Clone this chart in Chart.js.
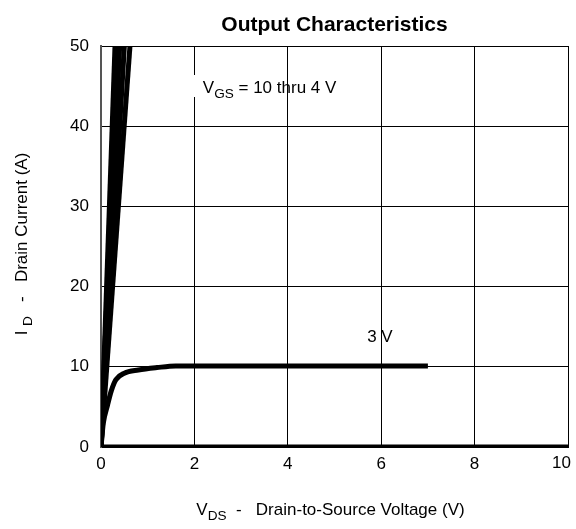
<!DOCTYPE html>
<html>
<head>
<meta charset="utf-8">
<script src="https://cdn.jsdelivr.net/npm/chart.js@4.4.0/dist/chart.umd.min.js"></script>
<style>
  html, body { margin: 0; padding: 0; background: #fff; }
  #wrap { width: 576px; height: 529px; }
</style>
</head>
<body>
<div id="wrap"><canvas id="chart" width="576" height="529"></canvas></div>
<script>
// Curve data (V_DS in volts, I_D in amps)
const vgs10V = [0, 0.30];
const vgs10I = [0, 50];
const vgs8V = [0, 0.34];
const vgs8I = [0, 50];
const vgs6V = [0, 0.40];
const vgs6I = [0, 50];
const vgs5V = [0, 0.50];
const vgs5I = [0, 50];
const vgs4V = [0, 0.62];
const vgs4I = [0, 50];
const vgs3V = [0, 0.05, 0.13, 0.22, 0.32, 0.5, 0.8, 1.2, 1.6, 3, 5, 7];
const vgs3I = [0, 3.0, 5.0, 7.0, 8.4, 9.2, 9.6, 9.9, 10.1, 10.1, 10.1, 10.1];
const vgs2V = [0, 10];
const vgs2I = [0, 0];
const xTicks = [0, 2, 4, 6, 8, 10];
const yTicks = [0, 10, 20, 30, 40, 50];

const FONT = 'Arial, "Liberation Sans", sans-serif';

function toPoints(xs, ys) {
    return xs.map((x, i) => ({ x: x, y: ys[i] }));
}

function curve(xs, ys, smooth) {
    return {
        data: toPoints(xs, ys),
        borderColor: '#000',
        borderWidth: 5,
        pointRadius: 0,
        fill: false,
        tension: 0,
        cubicInterpolationMode: smooth ? 'monotone' : 'default'
    };
}

// Draw a run of text pieces, some of them subscript
function drawRich(ctx, parts, x, y, size, align) {
    ctx.textBaseline = 'alphabetic';
    ctx.textAlign = 'left';
    let total = 0;
    parts.forEach(p => {
        ctx.font = (p.sub ? size * 0.8 : size) + 'px ' + FONT;
        total += ctx.measureText(p.t).width;
    });
    let cx = align === 'center' ? x - total / 2 : x;
    parts.forEach(p => {
        ctx.font = (p.sub ? size * 0.8 : size) + 'px ' + FONT;
        ctx.fillText(p.t, cx, p.sub ? y + size * 0.3 : y);
        cx += ctx.measureText(p.t).width;
    });
}

const labelsPlugin = {
    id: 'labels',
    afterDraw(chart) {
        const ctx = chart.ctx;
        const xs = chart.scales.x;
        const ys = chart.scales.y;
        ctx.save();
        ctx.fillStyle = '#000';

        // title
        ctx.font = 'bold 21px ' + FONT;
        ctx.textAlign = 'center';
        ctx.textBaseline = 'alphabetic';
        ctx.fillText('Output Characteristics', (xs.left + xs.right) / 2, 31);

        // last x tick label is pulled inside the canvas
        ctx.font = '17px ' + FONT;
        ctx.textAlign = 'right';
        ctx.textBaseline = 'middle';
        ctx.fillText('10', 571, 463);

        // annotations
        ctx.fillStyle = '#fff';
        ctx.fillRect(xs.getPixelForValue(1.95), 75, 8, 22);
        ctx.fillStyle = '#000';
        drawRich(ctx, [{ t: 'V' }, { t: 'GS', sub: true }, { t: ' = 10 thru 4 V' }],
            xs.getPixelForValue(2.18), 93, 17, 'left');
        drawRich(ctx, [{ t: '3 V' }], xs.getPixelForValue(5.7), 342, 17, 'left');

        // x axis title
        drawRich(ctx, [{ t: 'V' }, { t: 'DS', sub: true }, { t: '  -   Drain-to-Source Voltage (V)' }],
            (xs.left + xs.right) / 2 - 4, 515, 17, 'center');

        // y axis title
        ctx.translate(27, 244);
        ctx.rotate(-Math.PI / 2);
        drawRich(ctx, [{ t: 'I ' }, { t: 'D', sub: true }, { t: '   -   Drain Current (A)' }], 0, 0, 17, 'center');
        ctx.restore();
    }
};

new Chart(document.getElementById('chart'), {
    type: 'line',
    data: {
        datasets: [
            curve(vgs10V, vgs10I),
            curve(vgs8V, vgs8I),
            curve(vgs6V, vgs6I),
            curve(vgs5V, vgs5I),
            curve(vgs4V, vgs4I),
            curve(vgs3V, vgs3I, true),
            curve(vgs2V, vgs2I)
        ]
    },
    options: {
        responsive: false,
        animation: false,
        layout: { padding: { top: 46, right: 8, left: 0, bottom: 0 } },
        plugins: { legend: { display: false }, tooltip: { enabled: false } },
        scales: {
            x: {
                type: 'linear',
                min: 0,
                max: 10,
                afterFit: s => { s.height = 82; s.paddingLeft = 0; s.paddingRight = 0; },
                afterBuildTicks: s => { s.ticks = xTicks.map(v => ({ value: v })); },
                grid: { color: '#000', lineWidth: 1, tickLength: 0 },
                border: { color: '#000', width: 1 },
                ticks: {
                    color: '#000',
                    font: { family: FONT, size: 17 },
                    padding: 7,
                    maxRotation: 0,
                    callback: v => (v === 10 ? '' : v)
                }
            },
            y: {
                type: 'linear',
                min: 0,
                max: 50,
                afterFit: s => { s.width = 101; s.paddingTop = 0; s.paddingBottom = 0; },
                afterBuildTicks: s => { s.ticks = yTicks.map(v => ({ value: v })); },
                grid: { color: '#000', lineWidth: 1, tickLength: 0 },
                border: { color: '#555', width: 2 },
                ticks: { color: '#000', font: { family: FONT, size: 17 }, padding: 12 }
            }
        }
    },
    plugins: [labelsPlugin]
});
</script>
</body>
</html>
